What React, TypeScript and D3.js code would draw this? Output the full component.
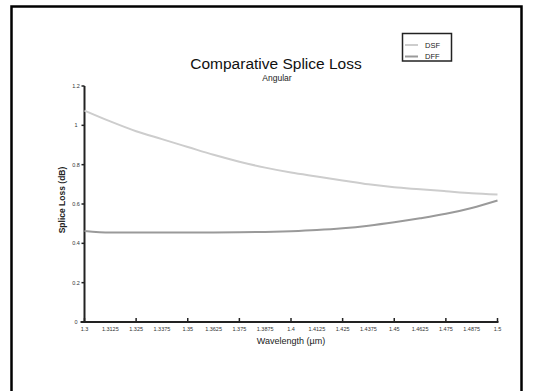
import React, { useEffect, useRef } from "react";
import * as d3 from "d3";

// Wavelength samples (µm) and splice loss (dB) per fiber type
const wavelengths = [
  1.3, 1.3125, 1.325, 1.3375, 1.35, 1.3625, 1.375, 1.3875, 1.4,
  1.4125, 1.425, 1.4375, 1.45, 1.4625, 1.475, 1.4875, 1.5,
];
const dsfLoss = [
  1.075, 1.02, 0.97, 0.93, 0.89, 0.85, 0.815, 0.785, 0.76,
  0.74, 0.72, 0.70, 0.685, 0.675, 0.665, 0.655, 0.648,
];
const dffLoss = [
  0.463, 0.455, 0.455, 0.455, 0.455, 0.455, 0.456, 0.458, 0.462,
  0.468, 0.477, 0.49, 0.507, 0.527, 0.55, 0.58, 0.618,
];
const seriesNames = ["DSF", "DFF"];
const seriesColors = ["#cdcdcd", "#9a9a9a"];
const xTickValues = wavelengths;
const yTickValues = [0, 0.2, 0.4, 0.6, 0.8, 1, 1.2];

const W = 544;
const H = 391;
const FONT = "'Liberation Sans', Arial, sans-serif";

export default function App() {
  const ref = useRef<SVGSVGElement | null>(null);

  useEffect(() => {
    const svg = d3.select(ref.current);
    svg.selectAll("*").remove();

    // outer frame (runs past the bottom edge)
    svg.append("rect")
      .attr("x", 11.5).attr("y", 6.5)
      .attr("width", 510).attr("height", 400)
      .attr("fill", "white").attr("stroke", "#000").attr("stroke-width", 2.5);

    const x = d3.scaleLinear().domain([1.3, 1.5]).range([84.5, 497.5]);
    const y = d3.scaleLinear().domain([0, 1.2]).range([322, 86]);

    // axes lines
    svg.append("line")
      .attr("x1", x(1.3)).attr("x2", x(1.3))
      .attr("y1", y(1.2)).attr("y2", y(0))
      .attr("stroke", "#222").attr("stroke-width", 2);
    svg.append("line")
      .attr("x1", x(1.3) - 4).attr("x2", x(1.5) + 1)
      .attr("y1", y(0)).attr("y2", y(0))
      .attr("stroke", "#222").attr("stroke-width", 2);

    // y ticks + labels
    const yt = svg.append("g");
    yTickValues.forEach((v) => {
      yt.append("line")
        .attr("x1", x(1.3) - 3).attr("x2", x(1.3))
        .attr("y1", y(v)).attr("y2", y(v))
        .attr("stroke", "#222").attr("stroke-width", 1.5);
      yt.append("text")
        .attr("x", 76).attr("y", y(v) + 2)
        .attr("text-anchor", "middle")
        .attr("font-family", FONT).attr("font-size", 5.5)
        .attr("fill", "#333")
        .text(d3.format("~g")(v));
    });

    // x ticks + labels
    const xt = svg.append("g");
    xTickValues.forEach((v, i) => {
      if (i % 2 === 0) {
        xt.append("line")
          .attr("x1", x(v)).attr("x2", x(v))
          .attr("y1", y(0) - 4).attr("y2", y(0))
          .attr("stroke", "#222").attr("stroke-width", 1.5);
      }
      xt.append("text")
        .attr("x", x(v)).attr("y", 331)
        .attr("text-anchor", "middle")
        .attr("font-family", FONT).attr("font-size", 5.5)
        .attr("fill", "#333")
        .text(d3.format("~g")(v));
    });

    // axis titles
    svg.append("text")
      .attr("x", 291).attr("y", 344)
      .attr("text-anchor", "middle")
      .attr("font-family", FONT).attr("font-size", 9)
      .attr("fill", "#222")
      .text("Wavelength (µm)");
    svg.append("text")
      .attr("transform", "translate(65,200) rotate(-90)")
      .attr("text-anchor", "middle")
      .attr("font-family", FONT).attr("font-size", 8.5)
      .attr("font-weight", "bold")
      .attr("fill", "#222")
      .text("Splice Loss (dB)");

    // titles
    svg.append("text")
      .attr("x", 276).attr("y", 69)
      .attr("text-anchor", "middle")
      .attr("font-family", FONT).attr("font-size", 15.5)
      .attr("fill", "#111")
      .text("Comparative Splice Loss");
    svg.append("text")
      .attr("x", 277).attr("y", 81)
      .attr("text-anchor", "middle")
      .attr("font-family", FONT).attr("font-size", 8.5)
      .attr("fill", "#222")
      .text("Angular");

    // series lines
    const line = d3.line<number>()
      .x((_, i) => x(wavelengths[i]))
      .y((d) => y(d))
      .curve(d3.curveMonotoneX);
    [dsfLoss, dffLoss].forEach((vals, k) => {
      svg.append("path")
        .attr("d", line(vals) ?? "")
        .attr("fill", "none")
        .attr("stroke", seriesColors[k])
        .attr("stroke-width", 2);
    });

    // legend
    const lg = svg.append("g");
    lg.append("rect")
      .attr("x", 402.5).attr("y", 33.5)
      .attr("width", 49).attr("height", 27.5)
      .attr("fill", "white").attr("stroke", "#222").attr("stroke-width", 1.5);
    seriesNames.forEach((name, k) => {
      const ly = 45 + k * 11.5;
      lg.append("line")
        .attr("x1", 405).attr("x2", 418)
        .attr("y1", ly).attr("y2", ly)
        .attr("stroke", seriesColors[k]).attr("stroke-width", 2);
      lg.append("text")
        .attr("x", 425).attr("y", ly + 2.8)
        .attr("font-family", FONT).attr("font-size", 7.5)
        .attr("fill", "#222")
        .text(name);
    });
  }, []);

  return (
    <svg
      ref={ref}
      width={W}
      height={H}
      style={{ position: "absolute", left: 0, top: 0, background: "white" }}
    />
  );
}
